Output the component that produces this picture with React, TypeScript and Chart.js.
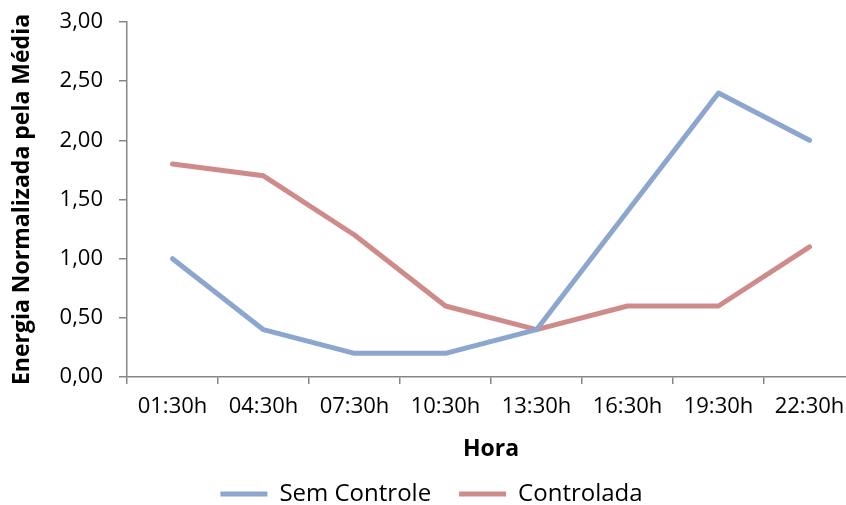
import React, { useEffect, useRef } from "react";
import { Chart, registerables } from "chart.js";

Chart.register(...registerables);

const horas = ["01:30h", "04:30h", "07:30h", "10:30h", "13:30h", "16:30h", "19:30h", "22:30h"];
const semControle = [1.0, 0.4, 0.2, 0.2, 0.4, 1.4, 2.4, 2.0];
const controlada = [1.8, 1.7, 1.2, 0.6, 0.4, 0.6, 0.6, 1.1];

const AXIS_GRAY = "#868686";
const FONT = "'Open Sans', 'Noto Sans', sans-serif";
const CANVAS_W = 880;
const CANVAS_H = 516;

export default function App() {
  const canvasRef = useRef<HTMLCanvasElement | null>(null);

  useEffect(() => {
    const canvas = canvasRef.current;
    if (!canvas) return;
    const chart = new Chart(canvas, {
      type: "line",
      data: {
        labels: horas,
        datasets: [
          {
            label: "Sem Controle",
            data: semControle,
            borderColor: "#8CA6CF",
            backgroundColor: "#8CA6CF",
            borderWidth: 5,
            borderCapStyle: "round",
            borderJoinStyle: "round",
            pointRadius: 0,
            pointStyle: "line",
            tension: 0,
          },
          {
            label: "Controlada",
            data: controlada,
            borderColor: "#CF8B89",
            backgroundColor: "#CF8B89",
            borderWidth: 5,
            borderCapStyle: "round",
            borderJoinStyle: "round",
            pointRadius: 0,
            pointStyle: "line",
            tension: 0,
          },
        ],
      },
      options: {
        responsive: false,
        animation: false,
        devicePixelRatio: 1,
        layout: { padding: { left: 8, right: CANVAS_W - 855, top: 22, bottom: 0 } },
        plugins: {
          tooltip: { enabled: false },
          legend: {
            position: "bottom",
            labels: {
              usePointStyle: true,
              pointStyleWidth: 47,
              boxHeight: 5,
              padding: 28,
              color: "#000",
              font: { family: FONT, size: 24 },
            },
          },
        },
        scales: {
          x: {
            offset: true,
            afterFit: (s: any) => {
              s.height = 77;
            },
            grid: {
              offset: true,
              drawOnChartArea: false,
              drawTicks: true,
              tickLength: 7,
              color: AXIS_GRAY,
              lineWidth: 1.5,
            },
            border: { display: true, color: AXIS_GRAY, width: 1.5 },
            ticks: {
              color: "#000",
              padding: 10,
              maxRotation: 0,
              autoSkip: false,
              font: { family: FONT, size: 22 },
            },
            title: {
              display: true,
              text: "Hora",
              color: "#000",
              padding: { top: 0, bottom: -9 },
              font: { family: FONT, size: 23, weight: "bold" },
            },
          },
          y: {
            min: 0,
            max: 3,
            afterFit: (s: any) => {
              s.width = 119;
              s.paddingTop = 0;
              s.paddingBottom = 0;
            },
            grid: {
              drawOnChartArea: false,
              drawTicks: true,
              tickLength: 8,
              color: AXIS_GRAY,
              lineWidth: 1.5,
            },
            border: { display: true, color: AXIS_GRAY, width: 1.5 },
            ticks: {
              stepSize: 0.5,
              color: "#000",
              padding: 16,
              font: { family: FONT, size: 22 },
              callback: (v: any) => Number(v).toFixed(2).replace(".", ","),
            },
            title: {
              display: true,
              text: "Energia Normalizada pela Média",
              color: "#000",
              padding: { top: 1, bottom: 0 },
              font: { family: FONT, size: 23, weight: "bold" },
            },
          },
        },
      },
    });
    return () => chart.destroy();
  }, []);

  return (
    <div
      style={{
        position: "fixed",
        left: 0,
        top: 0,
        width: 846,
        height: 505,
        overflow: "hidden",
        background: "#fff",
      }}
    >
      <canvas ref={canvasRef} width={CANVAS_W} height={CANVAS_H} style={{ display: "block" }} />
    </div>
  );
}
